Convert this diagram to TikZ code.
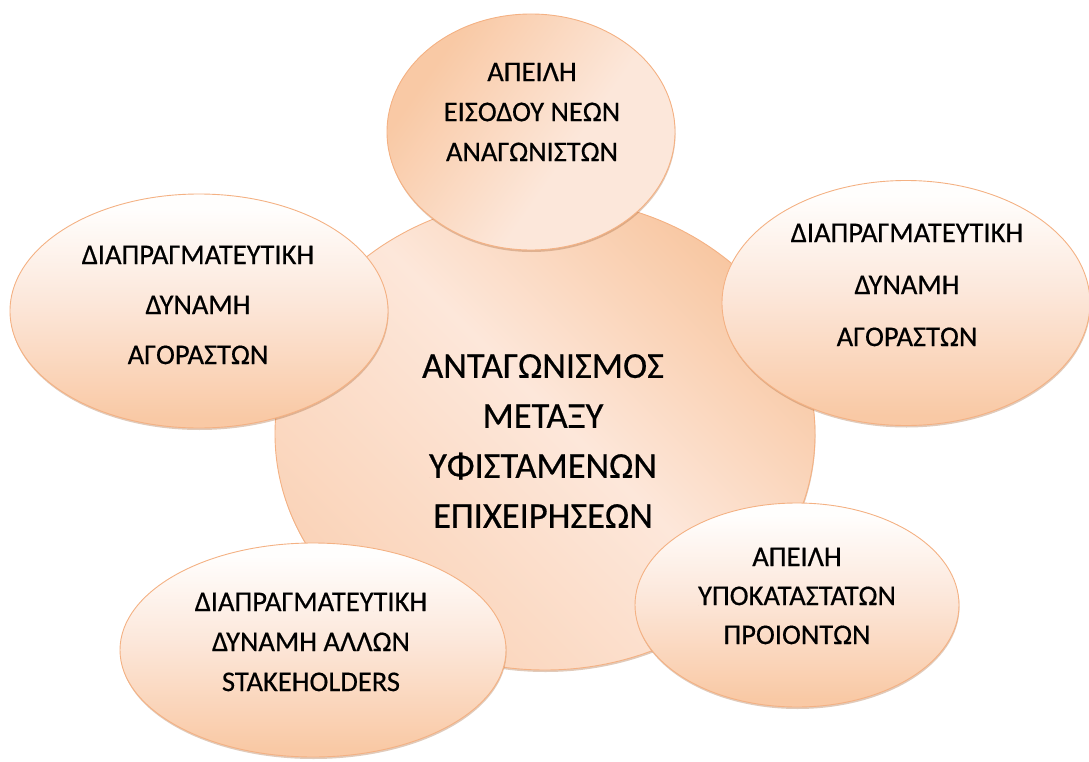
\documentclass[tikz,border=0pt]{standalone}
\usepackage{fontspec}
\setmainfont[FakeBold=0.5]{Carlito}
\usetikzlibrary{shapes.geometric,shadows}

% palette
\definecolor{rim}{HTML}{F4B183}
\definecolor{peach}{HTML}{F9C9A5}
\definecolor{pale}{HTML}{FCE7DA}
\definecolor{paper}{HTML}{FFFEFD}
\definecolor{discdark}{HTML}{F8C7A2}
\definecolor{disclight}{HTML}{FDE7DA}
\definecolor{discmid}{HTML}{FAD3B8}
\definecolor{shadowtone}{HTML}{A8683A}

% fills
\pgfdeclareverticalshading{bubbleshading}{100bp}{color(0bp)=(peach); color(27bp)=(peach); color(52bp)=(pale); color(72bp)=(paper); color(100bp)=(paper)}
\pgfdeclarehorizontalshading{discshading}{100bp}{color(0bp)=(discmid); color(25bp)=(discmid); color(52bp)=(disclight); color(75bp)=(discdark); color(100bp)=(discdark)}
\pgfdeclarehorizontalshading{capshading}{100bp}{color(0bp)=(peach); color(28bp)=(peach); color(58bp)=(pale); color(100bp)=(pale)}

\tikzset{
  blob/.style={ellipse, draw=rim, line width=0.9pt, inner sep=0pt,
    drop shadow={shadow xshift=0.5pt, shadow yshift=-2pt, opacity=0.35, fill=shadowtone}},
  bubble/.style={blob, shading=bubbleshading},
  disc/.style={blob, shading=discshading, shading angle=45},
  capbubble/.style={blob, shading=capshading, shading angle=-35},
  outertext/.style={align=center, inner sep=0pt, text=black},
}

\begin{document}
\begin{tikzpicture}[x=1pt, y=-1pt]
  \useasboundingbox (0,0) rectangle (1089,762);

  % central disc
  \node[disc, minimum width=540pt, minimum height=472pt] (core) at (545,434) {};
  \node[outertext, font=\fontsize{36.5}{50}\selectfont] (coretext) at (543,441)
    {ΑΝΤΑΓΩΝΙΣΜΟΣ\\ΜΕΤΑΞΥ\\ΥΦΙΣΤΑΜΕΝΩΝ\\ΕΠΙΧΕΙΡΗΣΕΩΝ};

  % surrounding forces
  \node[capbubble, minimum width=288pt, minimum height=236pt] (entry) at (531,132) {};
  \node[outertext, font=\fontsize{28.5}{40}\selectfont] (entrytext) at (532,112)
    {ΑΠΕΙΛΗ\\ΕΙΣΟΔΟΥ ΝΕΩΝ\\ΑΝΑΓΩΝΙΣΤΩΝ};

  \node[bubble, minimum width=378pt, minimum height=234pt] (buyersL) at (199,311) {};
  \node[outertext, font=\fontsize{28.5}{50}\selectfont] (buyersLtext) at (198,305)
    {ΔΙΑΠΡΑΓΜΑΤΕΥΤΙΚΗ\\ΔΥΝΑΜΗ\\ΑΓΟΡΑΣΤΩΝ};

  \node[bubble, minimum width=368pt, minimum height=245pt] (buyersR) at (906,303) {};
  \node[outertext, font=\fontsize{28.5}{52}\selectfont] (buyersRtext) at (907,285)
    {ΔΙΑΠΡΑΓΜΑΤΕΥΤΙΚΗ\\ΔΥΝΑΜΗ\\ΑΓΟΡΑΣΤΩΝ};

  \node[bubble, minimum width=324pt, minimum height=204pt] (subst) at (797,605) {};
  \node[outertext, font=\fontsize{28.5}{39}\selectfont] (substtext) at (797,596)
    {ΑΠΕΙΛΗ\\ΥΠΟΚΑΤΑΣΤΑΤΩΝ\\ΠΡΟΙΟΝΤΩΝ};

  \node[bubble, minimum width=386pt, minimum height=214pt] (stake) at (313,650) {};
  \node[outertext, font=\fontsize{28.5}{40}\selectfont] (staketext) at (311,642)
    {ΔΙΑΠΡΑΓΜΑΤΕΥΤΙΚΗ\\ΔΥΝΑΜΗ ΑΛΛΩΝ\\STAKEHOLDERS};
\end{tikzpicture}
\end{document}
